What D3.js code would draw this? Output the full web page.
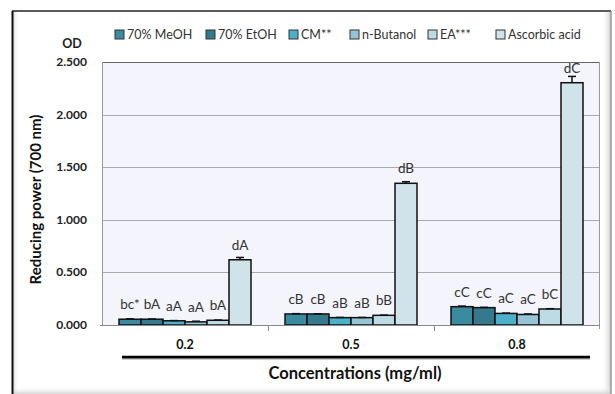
<!DOCTYPE html>
<html>
<head>
<meta charset="utf-8">
<script src="https://cdn.jsdelivr.net/npm/d3@7"></script>
<style>
  body { margin: 0; background: #fff; }
  svg { display: block; font-family: Lato, 'Open Sans', sans-serif; }
</style>
</head>
<body>
<div id="root"></div>
<script>
const concentrations = ['0.2', '0.5', '0.8'];
const extracts = ['70% MeOH', '70% EtOH', 'CM**', 'n-Butanol', 'EA***', 'Ascorbic acid'];
const colors = ['#3b8ba0', '#347a8c', '#4bb0c9', '#95c5d5', '#bcdbe4', '#d0e3ea'];

// values per extract, one per concentration
const meohValues = [0.055, 0.105, 0.174];
const etohValues = [0.055, 0.105, 0.165];
const cmValues = [0.040, 0.070, 0.110];
const butanolValues = [0.030, 0.070, 0.100];
const eaValues = [0.045, 0.092, 0.152];
const ascorbicValues = [0.620, 1.347, 2.303];

const meohErr = [0.003, 0.003, 0.006];
const etohErr = [0.002, 0.002, 0.003];
const cmErr = [0.002, 0.002, 0.003];
const butanolErr = [0.006, 0.002, 0.005];
const eaErr = [0.002, 0.002, 0.003];
const ascorbicErr = [0.022, 0.015, 0.060];

const meohLabels = ['bc*', 'cB', 'cC'];
const etohLabels = ['bA', 'cB', 'cC'];
const cmLabels = ['aA', 'aB', 'aC'];
const butanolLabels = ['aA', 'aB', 'aC'];
const eaLabels = ['bA', 'bB', 'bC'];
const ascorbicLabels = ['dA', 'dB', 'dC'];

const yTicks = [0, 0.5, 1, 1.5, 2, 2.5];

const seriesValues = [meohValues, etohValues, cmValues, butanolValues, eaValues, ascorbicValues];
const seriesErr = [meohErr, etohErr, cmErr, butanolErr, eaErr, ascorbicErr];
const seriesLabels = [meohLabels, etohLabels, cmLabels, butanolLabels, eaLabels, ascorbicLabels];

const rows = [];
concentrations.forEach((c, ci) => {
  extracts.forEach((e, ei) => {
    rows.push({
      conc: c,
      extract: e,
      idx: ei,
      value: seriesValues[ei][ci],
      err: seriesErr[ei][ci],
      label: seriesLabels[ei][ci],
    });
  });
});

const width = 615;
const height = 394;
const plot = { left: 102, right: 600, top: 62, bottom: 325 };

const svg = d3.select('#root').append('svg')
  .attr('width', width)
  .attr('height', height);

const defs = svg.append('defs');
const shadeR = defs.append('linearGradient').attr('id', 'shadeR');
shadeR.append('stop').attr('offset', 0).attr('stop-color', '#fff').attr('stop-opacity', 0);
shadeR.append('stop').attr('offset', 1).attr('stop-color', '#bbb').attr('stop-opacity', 0.8);
const shadeL = defs.append('linearGradient').attr('id', 'shadeL');
shadeL.append('stop').attr('offset', 0).attr('stop-color', '#ccc').attr('stop-opacity', 0.8);
shadeL.append('stop').attr('offset', 1).attr('stop-color', '#fff').attr('stop-opacity', 0);
const shadeB = defs.append('linearGradient').attr('id', 'shadeB')
  .attr('x1', 0).attr('x2', 0).attr('y1', 0).attr('y2', 1);
shadeB.append('stop').attr('offset', 0).attr('stop-color', '#fff').attr('stop-opacity', 0);
shadeB.append('stop').attr('offset', 1).attr('stop-color', '#ccc').attr('stop-opacity', 0.8);

// outer frame
svg.append('rect').attr('x', 602).attr('y', 12).attr('width', 9).attr('height', 382).attr('fill', 'url(#shadeR)');
svg.append('rect').attr('x', 13).attr('y', 12).attr('width', 6).attr('height', 382).attr('fill', 'url(#shadeL)');
svg.append('rect').attr('x', 13).attr('y', 386).attr('width', 598).attr('height', 8).attr('fill', 'url(#shadeB)');
svg.append('line').attr('x1', 12).attr('x2', 611).attr('y1', 11).attr('y2', 11)
  .attr('stroke', '#222').attr('stroke-width', 1.5);
svg.append('line').attr('x1', 12.5).attr('x2', 12.5).attr('y1', 11).attr('y2', 394)
  .attr('stroke', '#111').attr('stroke-width', 2);
svg.append('line').attr('x1', 611).attr('x2', 611).attr('y1', 11).attr('y2', 394)
  .attr('stroke', '#999').attr('stroke-width', 1.5);

const x0 = d3.scaleBand()
  .domain(concentrations)
  .range([plot.left, plot.right]);

const x1 = d3.scaleBand()
  .domain(extracts)
  .range([17, x0.bandwidth() - 17]);

const y = d3.scaleLinear()
  .domain([0, 2.5])
  .range([plot.bottom, plot.top]);

// plot background
svg.append('rect')
  .attr('x', plot.left)
  .attr('y', plot.top)
  .attr('width', plot.right - plot.left)
  .attr('height', plot.bottom - plot.top)
  .attr('fill', '#f4f4fd');

svg.append('g')
  .attr('class', 'grid')
  .selectAll('line')
  .data(yTicks.slice(1, -1))
  .enter()
  .append('line')
  .attr('x1', plot.left)
  .attr('x2', plot.right)
  .attr('y1', d => Math.round(y(d)) + 0.5)
  .attr('y2', d => Math.round(y(d)) + 0.5)
  .attr('stroke', '#aaa')
  .attr('stroke-width', 1);

// plot border
svg.append('line').attr('x1', plot.left).attr('x2', plot.right)
  .attr('y1', plot.top + 0.5).attr('y2', plot.top + 0.5).attr('stroke', '#666');
svg.append('line').attr('x1', plot.left + 0.5).attr('x2', plot.left + 0.5)
  .attr('y1', plot.top).attr('y2', plot.bottom).attr('stroke', '#999');
svg.append('line').attr('x1', plot.right - 0.5).attr('x2', plot.right - 0.5)
  .attr('y1', plot.top).attr('y2', plot.bottom + 4).attr('stroke', '#999');

// y tick labels
svg.append('g')
  .selectAll('text')
  .data(yTicks)
  .enter()
  .append('text')
  .attr('x', 87)
  .attr('y', d => y(d) + 4)
  .attr('text-anchor', 'end')
  .attr('font-size', 12)
  .attr('font-weight', 'bold')
  .attr('fill', '#222')
  .text(d3.format('.3f'));

svg.append('text')
  .attr('x', 72)
  .attr('y', 48)
  .attr('text-anchor', 'middle')
  .attr('font-size', 12.5)
  .attr('font-weight', 'bold')
  .attr('fill', '#222')
  .text('OD');

svg.append('text')
  .attr('transform', `translate(41, ${(plot.top + plot.bottom) / 2 + 6}) rotate(-90)`)
  .attr('text-anchor', 'middle')
  .attr('font-size', 15)
  .attr('font-weight', 'bold')
  .attr('fill', '#111')
  .text('Reducing power (700 nm)');

const groups = svg.append('g')
  .selectAll('g')
  .data(concentrations)
  .enter()
  .append('g')
  .attr('transform', d => `translate(${x0(d)}, 0)`);

groups.selectAll('rect')
  .data(c => rows.filter(r => r.conc === c))
  .enter()
  .append('rect')
  .attr('x', d => x1(d.extract))
  .attr('y', d => y(d.value))
  .attr('width', x1.bandwidth())
  .attr('height', d => y(0) - y(d.value))
  .attr('fill', d => colors[d.idx])
  .attr('stroke', '#111')
  .attr('stroke-width', 1.5);

const errs = groups.selectAll('g.err')
  .data(c => rows.filter(r => r.conc === c))
  .enter()
  .append('g')
  .attr('class', 'err')
  .attr('stroke', '#111')
  .attr('stroke-width', 1.5);

errs.append('line')
  .attr('x1', d => x1(d.extract) + x1.bandwidth() / 2)
  .attr('x2', d => x1(d.extract) + x1.bandwidth() / 2)
  .attr('y1', d => y(d.value))
  .attr('y2', d => y(d.value + d.err));

errs.append('line')
  .attr('x1', d => x1(d.extract) + x1.bandwidth() / 2 - 4)
  .attr('x2', d => x1(d.extract) + x1.bandwidth() / 2 + 4)
  .attr('y1', d => y(d.value + d.err))
  .attr('y2', d => y(d.value + d.err));

groups.selectAll('text.lbl')
  .data(c => rows.filter(r => r.conc === c))
  .enter()
  .append('text')
  .attr('class', 'lbl')
  .attr('x', d => x1(d.extract) + x1.bandwidth() / 2)
  .attr('y', d => y(d.value) - 10)
  .attr('text-anchor', 'middle')
  .attr('font-size', 13.5)
  .attr('fill', '#333')
  .text(d => d.label);

// x axis
svg.append('line')
  .attr('x1', plot.left - 2)
  .attr('x2', plot.right)
  .attr('y1', plot.bottom + 0.5)
  .attr('y2', plot.bottom + 0.5)
  .attr('stroke', '#888');

svg.append('g')
  .selectAll('line')
  .data(concentrations.slice(1))
  .enter()
  .append('line')
  .attr('x1', d => x0(d) + 0.5)
  .attr('x2', d => x0(d) + 0.5)
  .attr('y1', plot.bottom)
  .attr('y2', plot.bottom + 6)
  .attr('stroke', '#888');

svg.append('g')
  .selectAll('text')
  .data(concentrations)
  .enter()
  .append('text')
  .attr('x', d => x0(d) + x0.bandwidth() / 2)
  .attr('y', 349)
  .attr('text-anchor', 'middle')
  .attr('font-size', 12.5)
  .attr('font-weight', 'bold')
  .attr('fill', '#111')
  .text(d => d);

svg.append('line')
  .attr('x1', 122)
  .attr('x2', 590)
  .attr('y1', 358.5)
  .attr('y2', 358.5)
  .attr('stroke', '#999')
  .attr('stroke-width', 2);
svg.append('line')
  .attr('x1', 122)
  .attr('x2', 590)
  .attr('y1', 357)
  .attr('y2', 357)
  .attr('stroke', '#000')
  .attr('stroke-width', 2.5);

svg.append('text')
  .attr('x', 355)
  .attr('y', 379)
  .attr('text-anchor', 'middle')
  .attr('font-size', 16.5)
  .attr('font-weight', 'bold')
  .attr('fill', '#111')
  .text('Concentrations (mg/ml)');

// legend
const legendX = [115, 206, 289, 350, 428, 496];
const legend = svg.append('g')
  .selectAll('g')
  .data(extracts)
  .enter()
  .append('g')
  .attr('transform', (d, i) => `translate(${legendX[i]}, 30)`);

legend.append('rect')
  .attr('width', 9)
  .attr('height', 9)
  .attr('fill', (d, i) => colors[i])
  .attr('stroke', '#333')
  .attr('stroke-width', 1);

legend.append('text')
  .attr('x', 12)
  .attr('y', 9)
  .attr('font-size', 12.5)
  .attr('fill', '#333')
  .text(d => d);
</script>
</body>
</html>
